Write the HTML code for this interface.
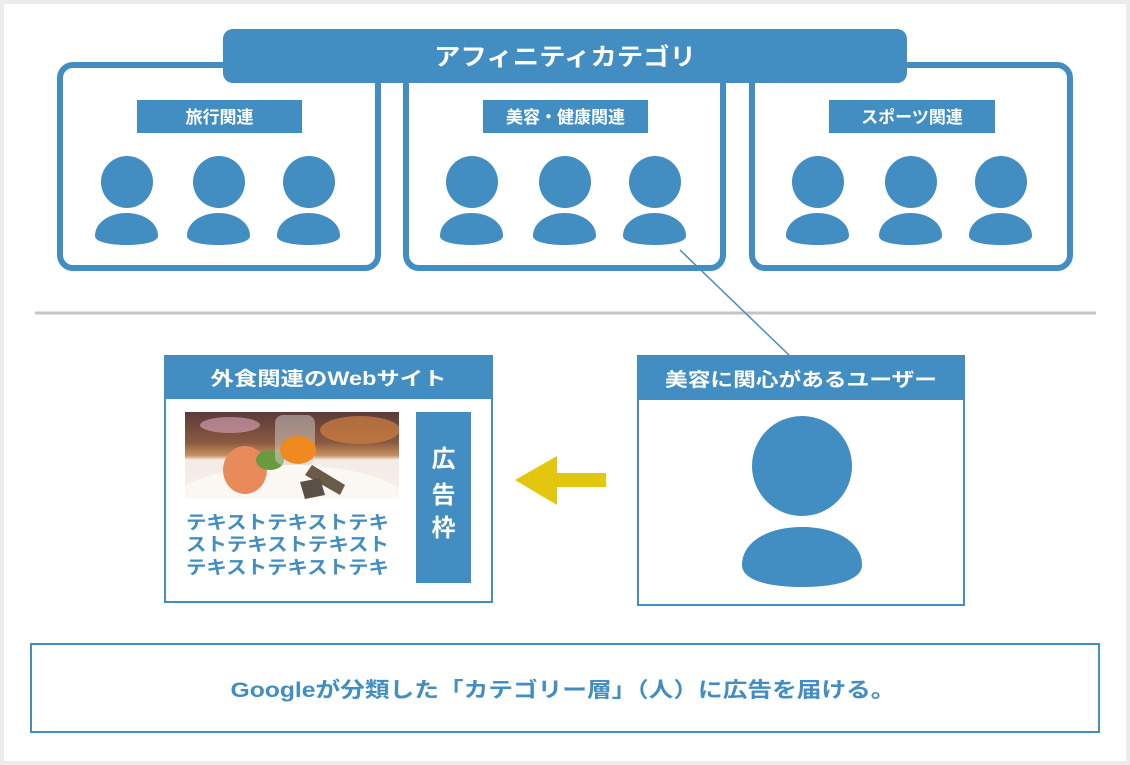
<!DOCTYPE html>
<html><head><meta charset="utf-8"><style>
html,body{margin:0;padding:0;background:#ececec;}
svg{display:block;}
text{font-family:"Liberation Sans","Noto Sans CJK JP",sans-serif;font-weight:bold;}
</style></head><body>
<svg width="1130" height="765" viewBox="0 0 1130 765" xmlns="http://www.w3.org/2000/svg">
<defs>
<linearGradient id="bg" x1="0" y1="0" x2="0" y2="1">
<stop offset="0" stop-color="#5a3a3a"/><stop offset="0.35" stop-color="#8a5a40"/><stop offset="0.5" stop-color="#c89060"/><stop offset="0.55" stop-color="#f4ece6"/><stop offset="1" stop-color="#f6f0ea"/>
</linearGradient>
<clipPath id="ic"><rect x="185" y="412" width="214" height="87"/></clipPath>
</defs>
<rect x="4" y="4" width="1122" height="757" fill="#fff"/>
<g fill="none" stroke="#428dc1" stroke-width="6">
<rect x="60" y="65" width="318" height="203" rx="13"/>
<rect x="406" y="65" width="317" height="203" rx="13"/>
<rect x="752" y="65" width="318" height="203" rx="13"/>
</g>
<rect x="223" y="29" width="684" height="54" rx="10" fill="#428dc1"/>
<text x="565" y="65" font-size="24" fill="#fff" text-anchor="middle" textLength="262" lengthAdjust="spacingAndGlyphs">アフィニティカテゴリ</text>
<g fill="#428dc1">
<rect x="137" y="100" width="165" height="33"/>
<rect x="483" y="100" width="165" height="33"/>
<rect x="829" y="100" width="166" height="33"/>
</g>
<g font-size="17" fill="#fff" text-anchor="middle">
<text x="219.5" y="123">旅行関連</text>
<text x="565.5" y="123">美容・健康関連</text>
<text x="912" y="123">スポーツ関連</text>
</g>
<g fill="#428dc1">
<circle cx="127" cy="182" r="26"/><circle cx="219" cy="182" r="26"/><circle cx="309" cy="182" r="26"/>
<circle cx="472" cy="182" r="26"/><circle cx="565" cy="182" r="26"/><circle cx="655" cy="182" r="26"/>
<circle cx="818" cy="182" r="26"/><circle cx="911" cy="182" r="26"/><circle cx="1001" cy="182" r="26"/>
</g>
<g fill="#428dc1">
<path id="b" d="M95,236 C95,222 110,213 126.5,213 C143,213 158,222 158,236 C158,242 143,245 126.5,245 C110,245 95,242 95,236 Z"/>
<use href="#b" x="92"/><use href="#b" x="182"/>
<use href="#b" x="345"/><use href="#b" x="438"/><use href="#b" x="528"/>
<use href="#b" x="691"/><use href="#b" x="784"/><use href="#b" x="874"/>
</g>
<line x1="35" y1="313" x2="1096" y2="313" stroke="#c4c4c4" stroke-width="3"/>
<line x1="680" y1="250" x2="790" y2="356" stroke="#428dc1" stroke-width="1.5"/>
<rect x="165" y="356" width="327" height="246" fill="#fff" stroke="#428dc1" stroke-width="2"/>
<rect x="164" y="355" width="329" height="44" fill="#428dc1"/>
<text x="328.5" y="385" font-size="19" fill="#fff" text-anchor="middle" textLength="236" lengthAdjust="spacingAndGlyphs">外食関連のWebサイト</text>
<g clip-path="url(#ic)">
<rect x="185" y="412" width="214" height="87" fill="url(#bg)"/>
<ellipse cx="230" cy="425" rx="30" ry="8" fill="#e0a8c0" opacity="0.6"/>
<ellipse cx="360" cy="430" rx="40" ry="14" fill="#d08040" opacity="0.7"/>
<ellipse cx="290" cy="510" rx="125" ry="45" fill="#fbf7f2"/>
<ellipse cx="245" cy="470" rx="22" ry="24" fill="#e88a5a"/>
<ellipse cx="270" cy="460" rx="14" ry="10" fill="#6a9a40"/>
<rect x="275" y="415" width="40" height="50" rx="8" fill="#d8d0cc" opacity="0.5"/>
<ellipse cx="298" cy="450" rx="18" ry="14" fill="#f08a20"/>
<path d="M312,465 L345,485 L340,495 L305,475 Z" fill="#6a5a48"/>
<path d="M300,482 L320,478 L325,495 L305,499 Z" fill="#5a5048"/>
</g>
<g font-size="18.5" fill="#428dc1">
<text x="186" y="529" textLength="203" lengthAdjust="spacingAndGlyphs">テキストテキストテキ</text>
<text x="186" y="551" textLength="203" lengthAdjust="spacingAndGlyphs">ストテキストテキスト</text>
<text x="186" y="574" textLength="203" lengthAdjust="spacingAndGlyphs">テキストテキストテキ</text>
</g>
<rect x="416" y="412" width="55" height="171" fill="#428dc1"/>
<g font-size="24" fill="#fff" text-anchor="middle">
<text x="443.5" y="467">広</text><text x="443.5" y="503">告</text><text x="443.5" y="536">枠</text>
</g>
<path d="M515,480 L557,456 L557,473 L606,473 L606,487 L557,487 L557,505 Z" fill="#e2c70e"/>
<rect x="638" y="356" width="326" height="249" fill="#fff" stroke="#428dc1" stroke-width="2"/>
<rect x="637" y="355" width="328" height="45" fill="#428dc1"/>
<text x="801" y="386" font-size="19" fill="#fff" text-anchor="middle" textLength="272" lengthAdjust="spacingAndGlyphs">美容に関心があるユーザー</text>
<circle cx="802" cy="466" r="50" fill="#428dc1"/>
<path d="M742,565 C742,542 768,527 802,527 C836,527 862,542 862,565 C862,580 836,587 802,587 C768,587 742,580 742,565 Z" fill="#428dc1"/>
<rect x="31" y="644" width="1068" height="88" fill="none" stroke="#428dc1" stroke-width="2"/>
<text x="563" y="697" font-size="21" fill="#428dc1" text-anchor="middle" textLength="665" lengthAdjust="spacingAndGlyphs">Googleが分類した「カテゴリー層」（人）に広告を届ける。</text>
</svg>
</body></html>
